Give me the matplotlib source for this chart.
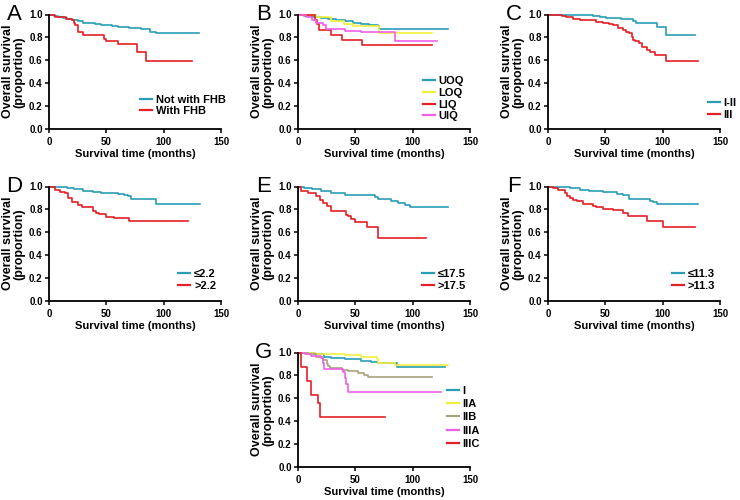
import matplotlib
matplotlib.use("Agg")
import matplotlib.pyplot as plt

plt.rcParams['font.family'] = ['Liberation Sans', 'DejaVu Sans']

TEAL = "#2a9db5"
RED = "#e41f26"
YELLOW = "#f2f03a"
MAGENTA = "#f060e6"
KHAKI = "#a9a27c"

# A: family history of breast cancer
a_no_t = [0, 4, 8, 12, 16, 20, 25, 30, 35, 40, 45, 50, 55, 60, 65, 70, 75, 80, 85, 88, 93, 131]
a_no_s = [1, 0.99, 0.98, 0.97, 0.96, 0.95, 0.94, 0.93, 0.925, 0.915, 0.91, 0.905, 0.90, 0.895,
          0.89, 0.885, 0.88, 0.875, 0.87, 0.85, 0.835, 0.835]
a_fhb_t = [0, 5, 15, 20, 22, 23, 25, 30, 48, 50, 60, 77, 85, 125]
a_fhb_s = [1, 0.98, 0.965, 0.95, 0.93, 0.91, 0.85, 0.825, 0.79, 0.77, 0.745, 0.675, 0.59, 0.59]

# B: tumour quadrant
b_uoq_t = [0, 5, 12, 20, 26, 33, 41, 48, 55, 62, 70, 71, 131]
b_uoq_s = [1, 0.99, 0.98, 0.97, 0.96, 0.95, 0.94, 0.93, 0.92, 0.91, 0.90, 0.875, 0.875]
b_loq_t = [0, 16, 29, 40, 48, 71, 117]
b_loq_s = [1, 0.98, 0.945, 0.92, 0.90, 0.835, 0.835]
b_liq_t = [0, 15, 17, 18, 29, 38, 56, 117]
b_liq_s = [1, 0.95, 0.92, 0.865, 0.825, 0.78, 0.735, 0.735]
b_uiq_t = [0, 7, 12, 16, 22, 24, 41, 55, 85, 121]
b_uiq_s = [1, 0.98, 0.95, 0.93, 0.905, 0.87, 0.86, 0.845, 0.77, 0.77]

# C: stage group
c_12_t = [0, 39, 45, 51, 64, 74, 77, 95, 103, 128]
c_12_s = [1, 0.99, 0.98, 0.968, 0.959, 0.945, 0.93, 0.89, 0.817, 0.817]
c_3_t = [0, 12, 16, 22, 28, 36, 42, 48, 53, 57, 61, 65.5, 68, 71, 73, 74, 76, 79, 82, 86, 89, 93, 103, 131]
c_3_s = [1, 0.985, 0.975, 0.965, 0.955, 0.948, 0.935, 0.924, 0.914, 0.904, 0.885, 0.866, 0.85,
         0.837, 0.80, 0.78, 0.765, 0.75, 0.72, 0.69, 0.67, 0.648, 0.59, 0.59]

# D: cut-off 2.2
d_lo_t = [0, 11, 16, 22, 30, 38, 45, 52, 60, 65, 68.5, 71.5, 93, 132]
d_lo_s = [1, 0.995, 0.985, 0.974, 0.96, 0.952, 0.946, 0.94, 0.935, 0.928, 0.92, 0.89, 0.849, 0.849]
d_hi_t = [0, 5.5, 10, 14, 17, 20, 25, 29, 38, 41, 44, 49.5, 57, 70, 121]
d_hi_s = [1, 0.968, 0.955, 0.94, 0.896, 0.867, 0.84, 0.817, 0.788, 0.77, 0.757, 0.736, 0.722, 0.696, 0.696]

# E: cut-off 17.5
e_lo_t = [0, 5, 12, 20, 29, 41, 55, 67, 70, 81.5, 87, 93, 97.6, 131]
e_lo_s = [1, 0.99, 0.98, 0.957, 0.942, 0.93, 0.922, 0.908, 0.89, 0.876, 0.856, 0.84, 0.818, 0.818]
e_hi_t = [0, 3, 9, 16, 19, 22, 25, 28.5, 42, 44, 46.6, 49.5, 60, 70, 112]
e_hi_s = [1, 0.957, 0.942, 0.919, 0.885, 0.856, 0.827, 0.784, 0.755, 0.741, 0.712, 0.689, 0.645, 0.553, 0.553]

# F: cut-off 11.3
f_lo_t = [0, 10, 19, 28, 36, 48, 60, 65.5, 71, 89, 92, 95, 131]
f_lo_s = [1, 0.995, 0.988, 0.971, 0.957, 0.948, 0.933, 0.922, 0.893, 0.875, 0.861, 0.846, 0.846]
f_hi_t = [0, 4, 9, 14.5, 17, 19, 22, 25, 30.5, 39, 42, 48, 57, 65.5, 70, 86, 100.5, 128]
f_hi_s = [1, 0.986, 0.971, 0.942, 0.92, 0.899, 0.885, 0.87, 0.849, 0.83, 0.817, 0.803, 0.791,
          0.768, 0.745, 0.696, 0.643, 0.643]

# G: TNM stage
g_i_t = [0, 11.6, 14.5, 23, 29, 41, 55, 64, 70, 86, 128]
g_i_s = [1, 0.995, 0.988, 0.965, 0.953, 0.939, 0.93, 0.916, 0.907, 0.872, 0.872]
g_iia_t = [0, 14.5, 26, 41, 55, 68.5, 70, 84.5, 131]
g_iia_s = [1, 0.988, 0.983, 0.974, 0.965, 0.945, 0.91, 0.887, 0.887]
g_iib_t = [0, 9, 16, 22, 25, 26, 28, 38, 44, 52, 58, 61, 116.5]
g_iib_s = [1, 0.983, 0.96, 0.936, 0.90, 0.88, 0.866, 0.849, 0.837, 0.82, 0.805, 0.79, 0.79]
g_iiia_t = [0, 6, 11.6, 20, 22, 23, 39, 41, 42, 44, 125]
g_iiia_s = [1, 0.988, 0.97, 0.953, 0.907, 0.855, 0.828, 0.776, 0.727, 0.654, 0.654]
g_iiic_t = [0, 3, 8, 11.6, 17.5, 19, 76]
g_iiic_s = [1, 0.875, 0.75, 0.625, 0.5625, 0.4375, 0.4375]

W, H = 0.2324, 0.229
# letter, axes origin, curves, legend anchor, legend row spacing
panels = [
    ("A", (0.0662, 0.742), [(a_no_t, a_no_s, TEAL, "Not with FHB"), (a_fhb_t, a_fhb_s, RED, "With FHB")],
     (0.53, 0.30), 0.15),
    ("B", (0.4027, 0.742), [(b_uoq_t, b_uoq_s, TEAL, "UOQ"), (b_loq_t, b_loq_s, YELLOW, "LOQ"),
                            (b_liq_t, b_liq_s, RED, "LIQ"), (b_uiq_t, b_uiq_s, MAGENTA, "UIQ")],
     (0.727, 0.46), 0.15),
    ("C", (0.7405, 0.742), [(c_12_t, c_12_s, TEAL, "I-II"), (c_3_t, c_3_s, RED, "III")],
     (0.93, 0.27), 0.15),
    ("D", (0.0662, 0.398), [(d_lo_t, d_lo_s, TEAL, "≤2.2"), (d_hi_t, d_hi_s, RED, ">2.2")],
     (0.753, 0.28), 0.15),
    ("E", (0.4027, 0.398), [(e_lo_t, e_lo_s, TEAL, "≤17.5"), (e_hi_t, e_hi_s, RED, ">17.5")],
     (0.721, 0.28), 0.15),
    ("F", (0.7405, 0.398), [(f_lo_t, f_lo_s, TEAL, "≤11.3"), (f_hi_t, f_hi_s, RED, ">11.3")],
     (0.721, 0.28), 0.15),
    ("G", (0.4027, 0.066), [(g_i_t, g_i_s, TEAL, "I"), (g_iia_t, g_iia_s, YELLOW, "IIA"),
                            (g_iib_t, g_iib_s, KHAKI, "IIB"), (g_iiia_t, g_iiia_s, MAGENTA, "IIIA"),
                            (g_iiic_t, g_iiic_s, RED, "IIIC")],
     (0.866, 0.71), 0.3),
]

fig = plt.figure(figsize=(7.4, 5), dpi=100)
for letter, (x0, y0), curves, leg_pos, leg_sp in panels:
    ax = fig.add_axes([x0, y0, W, H])
    for t, s, col, lab in curves:
        ax.plot(t, s, drawstyle="steps-post", color=col, lw=1.2, label=lab, clip_on=False)
    ax.set_xlim(0, 150)
    ax.set_ylim(0, 1.0)
    ax.set_xticks([0, 50, 100, 150])
    ax.set_yticks([0, 0.2, 0.4, 0.6, 0.8, 1.0])
    ax.set_yticklabels(["0.0", "0.2", "0.4", "0.6", "0.8", "1.0"])
    for side in ["top", "right"]:
        ax.spines[side].set_visible(False)
    for side in ["left", "bottom"]:
        ax.spines[side].set_linewidth(1.3)
    ax.tick_params(direction="out", length=3, width=1.1, labelsize=7)
    ax.tick_params(axis="y", pad=1.5)
    ax.tick_params(axis="x", pad=3)
    for lbl in ax.get_xticklabels() + ax.get_yticklabels():
        lbl.set_fontweight("bold")
    ax.set_xlabel("Survival time (months)", fontsize=8, fontweight="bold", labelpad=1)
    ax.set_ylabel("Overall survival\n(proportion)", fontsize=9, fontweight="bold", labelpad=3,
                  linespacing=0.9)
    ax.text(-0.2, 1.0, letter, transform=ax.transAxes, fontsize=16, ha="center", va="center")
    leg = ax.legend(loc="upper left", bbox_to_anchor=leg_pos, frameon=False, fontsize=8,
                    handlelength=1.05, handletextpad=0.35, labelspacing=leg_sp, borderpad=0,
                    borderaxespad=0)
    for txt in leg.get_texts():
        txt.set_fontweight("bold")
    for ln in leg.get_lines():
        ln.set_linewidth(1.6)

fig.savefig("out.png", dpi=100)
